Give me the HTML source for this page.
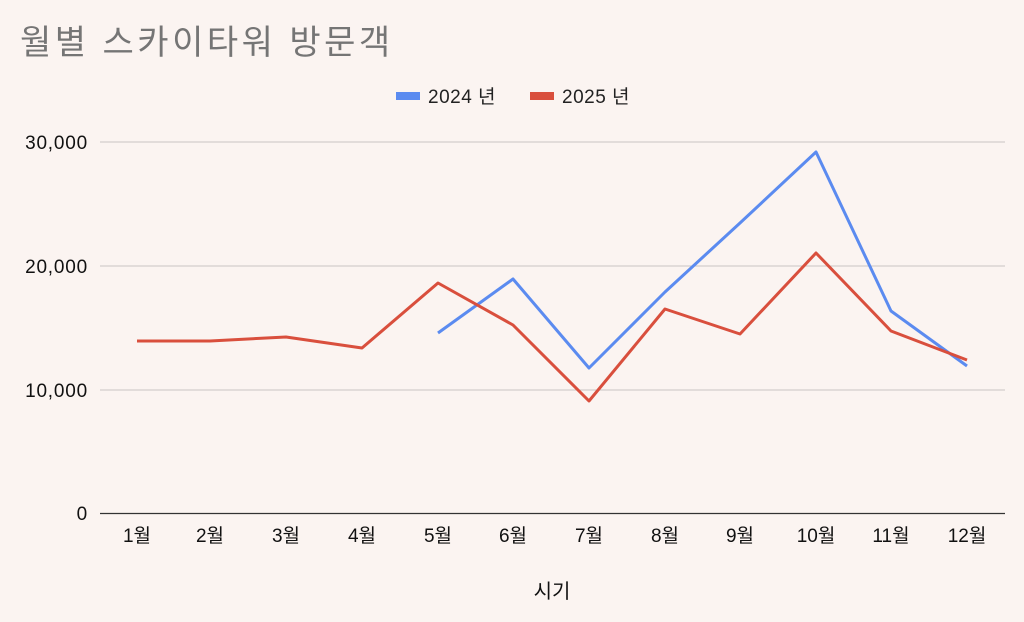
<!DOCTYPE html>
<html><head><meta charset="utf-8"><style>
html,body{margin:0;padding:0;background:#fbf4f1;}
svg{display:block;font-family:"Liberation Sans","Noto Sans CJK KR",sans-serif;}
</style></head><body>
<svg width="1024" height="622" viewBox="0 0 1024 622">
<rect width="1024" height="622" fill="#fbf4f1"/>
<text x="20" y="54" font-size="34" letter-spacing="3.5" fill="#757575">월별 스카이타워 방문객</text>
<rect x="396" y="92" width="24" height="8" fill="#5b8bf0"/>
<text x="428" y="103" font-size="19" letter-spacing="0.5" fill="#222">2024 년</text>
<rect x="530" y="92" width="24" height="8" fill="#d94f3d"/>
<text x="562" y="103" font-size="19" letter-spacing="0.5" fill="#222">2025 년</text>
<g stroke="#c8c4c2" stroke-width="1">
<line x1="100" y1="142" x2="1005" y2="142"/>
<line x1="100" y1="266" x2="1005" y2="266"/>
<line x1="100" y1="390" x2="1005" y2="390"/>
</g>
<line x1="100" y1="513.5" x2="1005" y2="513.5" stroke="#333" stroke-width="1.3"/>
<g font-size="19" fill="#111" text-anchor="end" letter-spacing="0.8">
<text x="88" y="149">30,000</text>
<text x="88" y="273">20,000</text>
<text x="88" y="397">10,000</text>
<text x="88" y="520">0</text>
</g>
<g font-size="19" fill="#111" text-anchor="middle">
<text x="137" y="542">1월</text><text x="210" y="542">2월</text><text x="286" y="542">3월</text>
<text x="362" y="542">4월</text><text x="438" y="542">5월</text><text x="513" y="542">6월</text>
<text x="589" y="542">7월</text><text x="665" y="542">8월</text><text x="740" y="542">9월</text>
<text x="816" y="542">10월</text><text x="891" y="542">11월</text><text x="967" y="542">12월</text>
<text x="552" y="598" font-size="20">시기</text>
</g>
<polyline fill="none" stroke="#5b8bf0" stroke-width="3" stroke-linejoin="round" points="438,333 513,279 589,368 665,292 740,223 816,152 891,311 967,366"/>
<polyline fill="none" stroke="#d94f3d" stroke-width="3" stroke-linejoin="round" points="137,341 210,341 286,337 362,348 438,283 513,325 589,401 665,309 740,334 816,253 891,331 967,360"/>
</svg>
</body></html>
